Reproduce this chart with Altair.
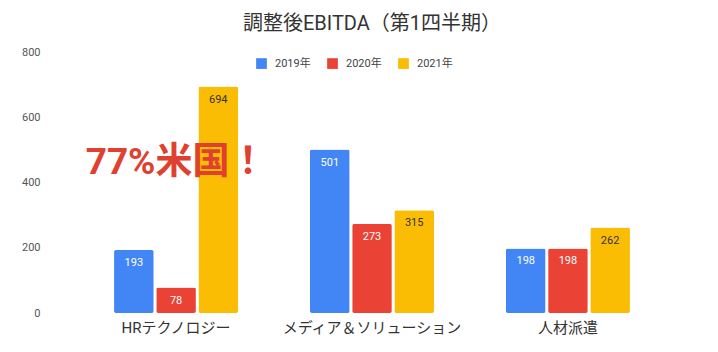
import altair as alt
import pandas as pd

categories = ["HRテクノロジー", "メディア＆ソリューション", "人材派遣"]
years = ["2019年", "2020年", "2021年"]
values_2019 = [193, 501, 198]
values_2020 = [78, 273, 198]
values_2021 = [694, 315, 262]
colors = ["#4285F4", "#EA4335", "#FBBC04"]
annotation_text = ["77%米国！"]
annotation_category = ["HRテクノロジー"]
annotation_value = [420]

rows = []
for yr, vals in zip(years, [values_2019, values_2020, values_2021]):
    for c, v in zip(categories, vals):
        rows.append({"category": c, "year": yr, "value": v})
df = pd.DataFrame(rows)
ann = pd.DataFrame({"category": annotation_category, "value": annotation_value, "text": annotation_text})

FONT = "Roboto, Noto Sans CJK JP, sans-serif"

x = alt.X("category:N", sort=categories, title=None,
          scale=alt.Scale(paddingInner=0.367, paddingOuter=0.184),
          axis=alt.Axis(labelAngle=0, labelFontSize=15, labelColor="#333333", domain=False,
                        ticks=False, labelPadding=7, labelFont=FONT, labelLimit=0))
y = alt.Y("value:Q", title=None,
          scale=alt.Scale(domain=[0, 800], nice=False),
          axis=alt.Axis(values=[0, 200, 400, 600, 800], grid=False, domain=False, ticks=False,
                        labelFontSize=11, labelColor="#555555", labelPadding=38, labelFont=FONT))
xoff = alt.XOffset("year:N", sort=years, scale=alt.Scale(paddingInner=0.06))

bars = alt.Chart(df).mark_bar(cornerRadius=2).encode(
    x=x, y=y, xOffset=xoff,
    color=alt.Color("year:N", sort=years, scale=alt.Scale(domain=years, range=colors),
                    legend=alt.Legend(title=None, orient="none", direction="horizontal",
                                      legendX=178, legendY=6, symbolType="square", symbolSize=115,
                                      symbolStrokeWidth=0, labelFontSize=11, labelColor="#444444",
                                      labelFont=FONT, columnPadding=16, labelOffset=8)),
)

labels = alt.Chart(df).mark_text(baseline="top", dy=7, fontSize=11, font=FONT).encode(
    x=x, y=y, xOffset=xoff,
    text=alt.Text("value:Q"),
    color=alt.condition("datum.year == '2021年'", alt.value("#333333"), alt.value("white")),
)

annot = alt.Chart(ann).mark_text(fontSize=37, fontWeight="bold", color="#E0402F",
                                 font=FONT, baseline="alphabetic", dy=-2).encode(
    x=alt.X("category:N", sort=categories), y=alt.Y("value:Q"), text="text:N"
)

chart = alt.layer(bars, labels, annot).properties(
    width=588, height=261,
    background="white",
    title=alt.TitleParams("調整後EBITDA（第1四半期）", fontSize=20, fontWeight="normal",
                          color="#333333", font=FONT, offset=12, anchor="middle"),
    autosize=alt.AutoSizeParams(type="none"),
    padding={"left": 78, "top": 52, "right": 52, "bottom": 39},
).configure_view(strokeWidth=0, stroke=None)

chart.save("out.html", embed_options={"renderer": "svg", "actions": False})
